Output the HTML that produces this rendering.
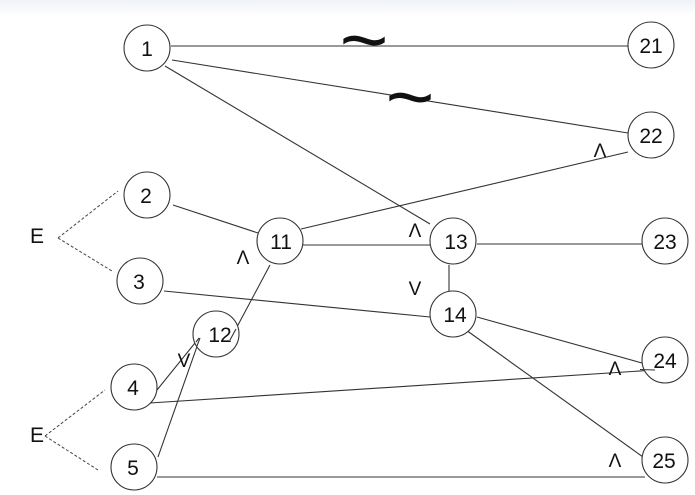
<!DOCTYPE html>
<html><head><meta charset="utf-8"><style>
html,body{margin:0;padding:0;background:#fff;}
body{width:695px;height:495px;overflow:hidden;position:relative;}
.haze{position:absolute;left:0;top:0;width:695px;height:16px;background:linear-gradient(to bottom,#eef2f7 0%,#f6f8fb 50%,#ffffff 100%);}
svg{position:absolute;left:0;top:0;}
text{font-family:"Liberation Sans",Arial,sans-serif;fill:#111;}
</style></head><body>
<div class="haze"></div>
<svg width="695" height="495" viewBox="0 0 695 495" xmlns="http://www.w3.org/2000/svg">
<g stroke="#333" stroke-width="1.1" fill="none">
<line x1="171" y1="46" x2="628" y2="46"/>
<line x1="172" y1="60" x2="628" y2="133"/>
<line x1="165" y1="66" x2="430" y2="224"/>
<line x1="301" y1="229" x2="628" y2="152"/>
<line x1="173" y1="205" x2="258" y2="233"/>
<line x1="303" y1="245" x2="430" y2="245"/>
<line x1="477" y1="244" x2="642" y2="244"/>
<line x1="449" y1="265" x2="449" y2="292"/>
<line x1="164" y1="291" x2="430" y2="317"/>
<line x1="477" y1="317" x2="642" y2="363"/>
<line x1="466" y1="330" x2="643" y2="457"/>
<line x1="150" y1="403" x2="655" y2="370"/>
<line x1="157" y1="477" x2="645" y2="477"/>
<line x1="270" y1="265" x2="230" y2="340"/>
<line x1="157" y1="390" x2="199" y2="338"/>
<line x1="158" y1="457" x2="200" y2="338"/>
</g>
<g stroke="#444" stroke-width="1" stroke-dasharray="3,2" fill="none">
<line x1="58" y1="238" x2="118" y2="191"/>
<line x1="58" y1="238" x2="112" y2="271"/>
<line x1="45" y1="436" x2="105" y2="390"/>
<line x1="45" y1="436" x2="98" y2="470"/>
</g>
<g stroke="#333" stroke-width="1.1" fill="#fff">
<circle cx="147" cy="48" r="23"/>
<circle cx="651" cy="45" r="23"/>
<circle cx="651" cy="135" r="23"/>
<circle cx="147" cy="195" r="23"/>
<circle cx="140" cy="281" r="23"/>
<circle cx="280" cy="241" r="23"/>
<circle cx="216" cy="334" r="23"/>
<circle cx="134" cy="387" r="23"/>
<circle cx="134" cy="467" r="23"/>
<circle cx="453" cy="241" r="23"/>
<circle cx="665" cy="241" r="23"/>
<circle cx="453" cy="314" r="23"/>
<circle cx="665" cy="360" r="23"/>
<circle cx="665" cy="460" r="23"/>
</g>
<g stroke="#333" stroke-width="1.1" fill="none">
<line x1="640" y1="369.5" x2="655" y2="370"/>
<line x1="236" y1="329" x2="230" y2="340"/>
<line x1="196" y1="342" x2="199" y2="338"/>
<line x1="197" y1="346" x2="200" y2="338"/>
</g>
<g font-size="21" text-anchor="middle">
<text x="147" y="56">1</text>
<text x="651" y="53">21</text>
<text x="651" y="143">22</text>
<text x="146" y="203">2</text>
<text x="139" y="289">3</text>
<text x="281" y="249">11</text>
<text x="220" y="342">12</text>
<text x="133" y="395">4</text>
<text x="133" y="475">5</text>
<text x="456" y="249">13</text>
<text x="665" y="249">23</text>
<text x="455" y="322">14</text>
<text x="665" y="368">24</text>
<text x="664" y="468">25</text>
<text x="37" y="243">E</text>
<text x="37" y="442">E</text>
</g>
<g font-size="19" text-anchor="middle">
<text x="600" y="157">Λ</text>
<text x="415" y="237">Λ</text>
<text x="243" y="264">Λ</text>
<text x="415" y="295">V</text>
<text x="615" y="375">Λ</text>
<text x="615" y="467">Λ</text>
<text x="184" y="367">V</text>
</g>
<g font-size="44" text-anchor="middle">
<text x="0" y="0" transform="translate(364,67) scale(1.9,1.8)">~</text>
<text x="0" y="0" transform="translate(410,124) scale(1.9,1.8)">~</text>
</g>
</svg>
</body></html>
